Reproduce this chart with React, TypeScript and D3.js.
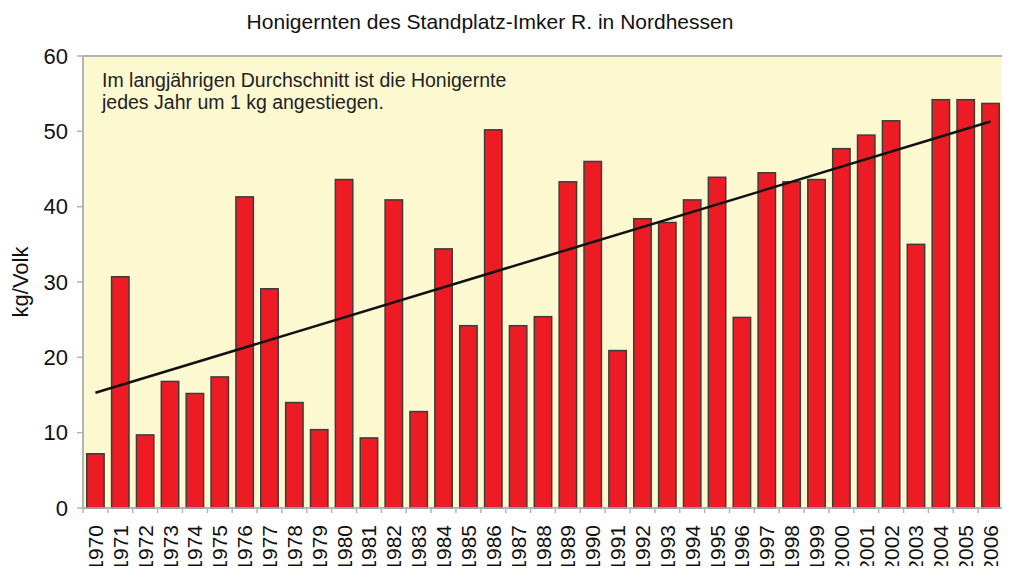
import { useEffect, useRef } from "react";
import * as d3 from "d3";

const years = d3.range(1970, 2007).map(String);
const harvest = [
  7.2, 30.7, 9.7, 16.8, 15.2, 17.4, 41.3, 29.1, 14.0, 10.4,
  43.6, 9.3, 40.9, 12.8, 34.4, 24.2, 50.2, 24.2, 25.4, 43.3,
  46.0, 20.9, 38.4, 37.9, 40.9, 43.9, 25.3, 44.5, 43.3, 43.6,
  47.7, 49.5, 51.4, 35.0, 54.2, 54.2, 53.7,
];
const trendStart = 15.3;
const trendEnd = 51.3;
const yTicks = [0, 10, 20, 30, 40, 50, 60];
const title = "Honigernten des Standplatz-Imker R. in Nordhessen";
const note = [
  "Im langjährigen Durchschnitt ist die Honigernte",
  "jedes Jahr um 1 kg angestiegen.",
];

export default function App() {
  const svgRef = useRef<SVGSVGElement>(null);

  useEffect(() => {
    if (!svgRef.current) return;
    const svg = d3.select(svgRef.current);
    svg.selectAll("*").remove();

    const left = 83, right = 1003, top = 56, bottom = 508;
    const font = "'Liberation Sans', Arial, sans-serif";

    const x = d3.scaleBand<string>().domain(years).range([left, right]).paddingInner(0.3).paddingOuter(0.15);
    const y = d3.scaleLinear().domain([0, 60]).range([bottom, top]);

    // plot background
    svg.append("rect")
      .attr("x", left).attr("y", top)
      .attr("width", right - left).attr("height", bottom - top)
      .attr("fill", "#fcf8d0")
      .attr("stroke", "#b4b4b4").attr("stroke-width", 2);

    // title
    svg.append("text")
      .attr("x", 490).attr("y", 29)
      .attr("text-anchor", "middle")
      .style("font-family", font).style("font-size", "21px").attr("fill", "#111")
      .text(title);

    // y ticks
    const yAxis = svg.append("g");
    yTicks.forEach((t) => {
      yAxis.append("line")
        .attr("x1", left - 6).attr("x2", left)
        .attr("y1", y(t)).attr("y2", y(t))
        .attr("stroke", "#b4b4b4").attr("stroke-width", 1.5);
      yAxis.append("text")
        .attr("x", left - 15).attr("y", y(t) + 7.5)
        .attr("text-anchor", "end")
        .style("font-family", font).style("font-size", "22px").attr("fill", "#111")
        .text(t);
    });

    svg.append("text")
      .attr("transform", `translate(28,${(top + bottom) / 2}) rotate(-90)`)
      .attr("text-anchor", "middle")
      .style("font-family", font).style("font-size", "22px").attr("fill", "#111")
      .text("kg/Volk");

    // x ticks between categories
    d3.range(years.length + 1).forEach((i) => {
      const xx = left + i * ((right - left) / years.length);
      svg.append("line")
        .attr("x1", xx).attr("x2", xx)
        .attr("y1", bottom).attr("y2", bottom + 5)
        .attr("stroke", "#b4b4b4").attr("stroke-width", 1.5);
    });

    // bars
    svg.append("g")
      .selectAll("rect")
      .data(harvest)
      .join("rect")
      .attr("x", (_, i) => x(years[i])!)
      .attr("y", (d) => y(d))
      .attr("width", x.bandwidth())
      .attr("height", (d) => bottom - y(d))
      .attr("fill", "#ed1c24")
      .attr("stroke", "#3c3c3c")
      .attr("stroke-width", 1.5);

    // bottom axis line
    svg.append("line")
      .attr("x1", left).attr("x2", right)
      .attr("y1", bottom).attr("y2", bottom)
      .attr("stroke", "#b4b4b4").attr("stroke-width", 1.5);

    // trend line
    const bw = x.bandwidth() / 2;
    svg.append("line")
      .attr("x1", x(years[0])! + bw).attr("y1", y(trendStart))
      .attr("x2", x(years[years.length - 1])! + bw).attr("y2", y(trendEnd))
      .attr("stroke", "#111").attr("stroke-width", 2.5);

    // x labels
    svg.append("g")
      .selectAll("text")
      .data(years)
      .join("text")
      .attr("transform", (d) => `translate(${x(d)! + bw + 7.5},${bottom + 17}) rotate(-90)`)
      .attr("text-anchor", "end")
      .style("font-family", font).style("font-size", "21px").attr("fill", "#111")
      .text((d) => d);

    // note
    note.forEach((line, i) => {
      svg.append("text")
        .attr("x", 102).attr("y", 87 + i * 22)
        .style("font-family", font).style("font-size", "19.5px").attr("fill", "#222")
        .text(line);
    });
  }, []);

  return (
    <div style={{ margin: -8 }}>
      <svg ref={svgRef} width={1010} height={574} style={{ display: "block", background: "#fff" }} />
    </div>
  );
}
